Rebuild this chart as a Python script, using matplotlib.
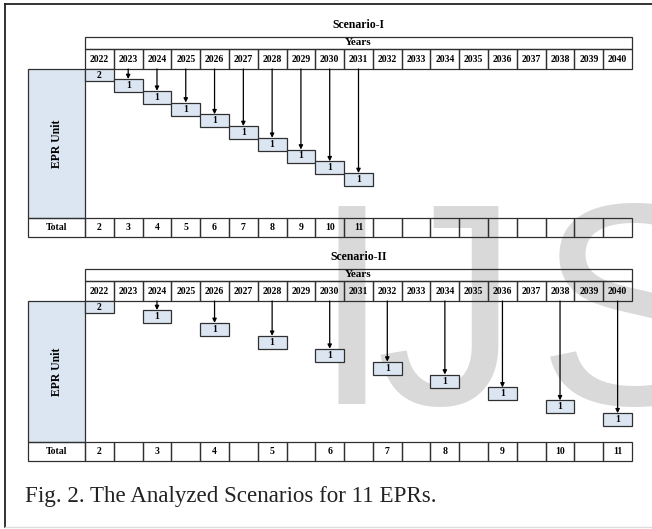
import matplotlib.pyplot as plt
from matplotlib.patches import Rectangle

# Data
years = list(range(2022, 2041))

s1_years = [2022, 2023, 2024, 2025, 2026, 2027, 2028, 2029, 2030, 2031]
s1_units = [2, 1, 1, 1, 1, 1, 1, 1, 1, 1]
s1_totals = [2, 3, 4, 5, 6, 7, 8, 9, 10, 11]

s2_years = [2022, 2024, 2026, 2028, 2030, 2032, 2034, 2036, 2038, 2040]
s2_units = [2, 1, 1, 1, 1, 1, 1, 1, 1, 1]
s2_totals = [2, 3, 4, 5, 6, 7, 8, 9, 10, 11]

caption = "Fig. 2. The Analyzed Scenarios for 11 EPRs."

# Canvas in pixel units
W, H = 652, 529
fig = plt.figure(figsize=(W / 100, H / 100), dpi=100)
ax = fig.add_axes([0, 0, 1, 1])
ax.set_xlim(0, W)
ax.set_ylim(H, 0)
ax.axis('off')

LINE = '#303030'
FILL = '#dce6f2'
SERIF = 'Liberation Serif'

x_left = 28
x0, x1 = 85, 632
colw = (x1 - x0) / len(years)


def col_x(year):
    return x0 + years.index(year) * colw


def cell(x, y, w, h, fc='none', zorder=2):
    ax.add_patch(Rectangle((x, y), w, h, fc=fc, ec=LINE, lw=0.9, zorder=zorder))


def label(x, y, s, size=7, **kw):
    ax.text(x, y, s, fontsize=size, fontweight='bold', family=SERIF,
            ha='center', va='center', zorder=5, **kw)


def draw_scenario(title, top, body_h, first_drop, step, inst_years, units, totals):
    hdr_h, yr_h, tot_h, box_h = 12.5, 20, 19, 13
    label((x0 + x1) / 2, top - 11, title, size=8.5)
    cell(x0, top, x1 - x0, hdr_h)
    label((x0 + x1) / 2, top + hdr_h / 2, 'Years', size=8)

    yr_top = top + hdr_h
    for yr in years:
        cell(col_x(yr), yr_top, colw, yr_h)
        label(col_x(yr) + colw / 2, yr_top + yr_h / 2, str(yr))

    body_top = yr_top + yr_h
    cell(x_left, body_top, x0 - x_left, body_h, fc=FILL)
    label((x_left + x0) / 2, body_top + body_h / 2, 'EPR Unit', size=8.5, rotation=90)

    tot_top = body_top + body_h
    cell(x_left, tot_top, x0 - x_left, tot_h)
    label((x_left + x0) / 2, tot_top + tot_h / 2, 'Total')
    for yr in years:
        cell(col_x(yr), tot_top, colw, tot_h)
    for yr, t in zip(inst_years, totals):
        label(col_x(yr) + colw / 2, tot_top + tot_h / 2, str(t))

    # installation boxes with arrows from the year header
    for k, (yr, u) in enumerate(zip(inst_years, units)):
        bx = col_x(yr)
        cx = bx + colw / 2
        if k == 0:
            by, bh = body_top, 12
        else:
            by, bh = body_top + first_drop + (k - 1) * step, box_h
            ax.annotate('', xy=(cx, by), xytext=(cx, body_top),
                        arrowprops=dict(arrowstyle='-|>', color='black', lw=0.9,
                                        mutation_scale=6, shrinkA=0, shrinkB=0),
                        zorder=4)
        cell(bx, by, colw, bh, fc=FILL, zorder=3)
        label(cx, by + bh / 2, str(u))


# watermark letters (journal stamp behind the figure)
for ch, wx in zip('IJS', [312, 376, 537]):
    ax.text(wx, 404, ch, fontsize=207, family='Liberation Sans', color='#d9d9d9',
            va='baseline', ha='left', zorder=0, clip_on=True)

draw_scenario('Scenario-I', 36.5, 149, 10, 11.75, s1_years, s1_units, s1_totals)
draw_scenario('Scenario-II', 268.5, 141, 9, 12.9, s2_years, s2_units, s2_totals)

# frame
ax.plot([5, W], [4, 4], color='#222222', lw=1.3, zorder=6)
ax.plot([5, 5], [4, 527], color='#222222', lw=1.3, zorder=6)
ax.plot([5, W], [527, 527], color='#dddddd', lw=1.0, zorder=6)

ax.text(25, 502, caption, fontsize=16.6, family=SERIF, color='#222222',
        ha='left', va='baseline', zorder=5)

fig.savefig('out.png', dpi=100)
